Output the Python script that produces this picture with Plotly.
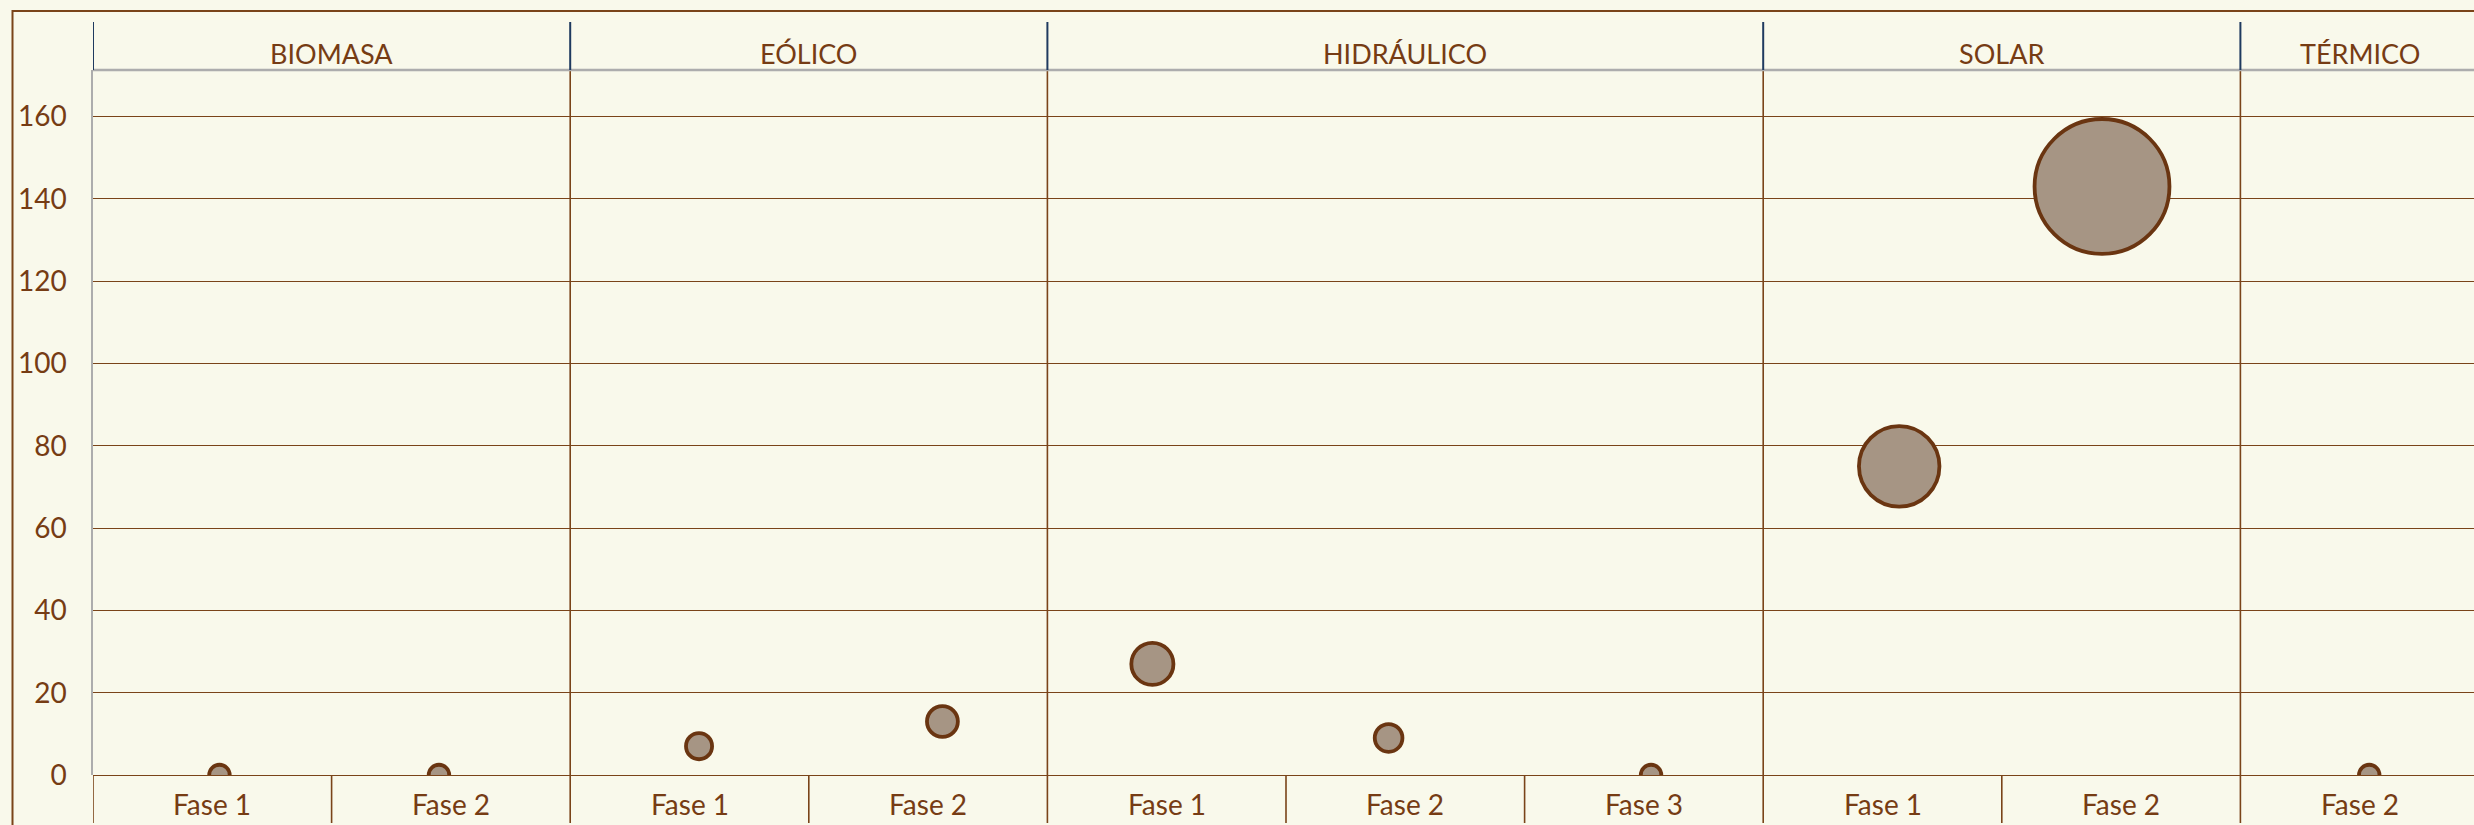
import plotly.graph_objects as go

# datos
GRUPOS = ["BIOMASA", "EÓLICO", "HIDRÁULICO", "SOLAR", "TÉRMICO"]
FASES = [["Fase 1", "Fase 2"],
         ["Fase 1", "Fase 2"],
         ["Fase 1", "Fase 2", "Fase 3"],
         ["Fase 1", "Fase 2"],
         ["Fase 2"]]
POS_X = [0.53, 1.45, 2.54, 3.56, 4.44, 5.43, 6.53, 7.57, 8.42, 9.54]
VALORES = [0, 0, 7, 13, 27, 9, 0, 75, 143, 0]

# colores
FONDO = "#f9f9eb"
MARRON = "#763c14"
LINEA = "#7a4419"
BURBUJA = "#a69584"
BORDE_BURBUJA = "#6a3511"
GRIS = "#adadad"
AZUL = "#1f3a5f"

W, H = 2474, 825
L, T, B = 93, 70, 50
ANCHO_CAT = 238.6
FUENTE = "Lato"


def py(p):
    # pixel vertical -> coordenada paper
    return (H - B - p) / (H - T - B)


def px(p):
    return (p - L) / (W - L)


fig = go.Figure()

# tamaño de burbuja según el valor
tamanos = [20.5 + 0.8 * v for v in VALORES]
fig.add_trace(go.Scatter(
    x=POS_X, y=VALORES, mode="markers",
    marker=dict(size=tamanos, color=BURBUJA, opacity=1,
                line=dict(color=BORDE_BURBUJA, width=3.8)),
    showlegend=False, hoverinfo="y"
))

# límites de grupos y categorías
limites_grupo = [0]
for f in FASES:
    limites_grupo.append(limites_grupo[-1] + len(f))
n_cat = limites_grupo[-1]

shapes = []
# marco exterior
shapes.append(dict(type="rect", xref="paper", yref="paper",
                   x0=px(12.5), x1=px(2700), y0=py(1000), y1=py(11),
                   line=dict(color=LINEA, width=2), fillcolor="rgba(0,0,0,0)"))
# línea superior gris del área de trazado
shapes.append(dict(type="line", xref="paper", yref="paper", x0=0, x1=1, y0=1, y1=1,
                   line=dict(color=GRIS, width=2.5)))
# separadores de cabecera (azules)
for b in limites_grupo[:-1]:
    shapes.append(dict(type="line", xref="x", yref="paper", x0=b, x1=b,
                       y0=1, y1=py(22), line=dict(color=AZUL, width=2)))
# separadores de grupo (toda la altura)
for b in limites_grupo[1:-1]:
    shapes.append(dict(type="line", xref="x", yref="paper", x0=b, x1=b,
                       y0=py(823), y1=1, line=dict(color=LINEA, width=1.6), layer="below"))
# separadores de categoría (solo bajo el eje)
for i in range(n_cat):
    if i == 0 or i not in limites_grupo:
        shapes.append(dict(type="line", xref="x", yref="paper", x0=i, x1=i,
                           y0=py(823), y1=0, line=dict(color=LINEA, width=1.6)))

annotations = []
for g, nombre in enumerate(GRUPOS):
    centro = (limites_grupo[g] + limites_grupo[g + 1]) / 2
    annotations.append(dict(x=centro, y=py(53), xref="x", yref="paper", text=nombre,
                            showarrow=False, yanchor="middle",
                            font=dict(family=FUENTE, size=27, color=MARRON)))
    for j, fase in enumerate(FASES[g]):
        annotations.append(dict(x=limites_grupo[g] + j + 0.5, y=py(804), xref="x", yref="paper",
                                text=fase, showarrow=False, yanchor="middle",
                                font=dict(family=FUENTE, size=28, color=MARRON)))

fig.update_layout(
    width=W, height=H, autosize=False,
    margin=dict(l=L, r=0, t=T, b=B, pad=0),
    paper_bgcolor=FONDO, plot_bgcolor=FONDO,
    shapes=shapes, annotations=annotations,
    showlegend=False,
    xaxis=dict(range=[0, (W - L) / ANCHO_CAT], showgrid=False, zeroline=False,
               showticklabels=False, showline=False, fixedrange=True),
    yaxis=dict(range=[0, 171.3], tick0=0, dtick=20, showgrid=True, gridcolor=LINEA,
               gridwidth=1.3, zeroline=True, zerolinecolor=LINEA, zerolinewidth=1.3,
               showline=True, linecolor=GRIS, linewidth=1.5, ticks="",
               ticklabelstandoff=19,
               tickfont=dict(family=FUENTE, size=28, color=MARRON)),
)

# quitar el margen del body para que el gráfico empiece en (0, 0)
fig.write_html("out.html", config={"displayModeBar": False},
               post_script="document.body.style.margin='0';")
